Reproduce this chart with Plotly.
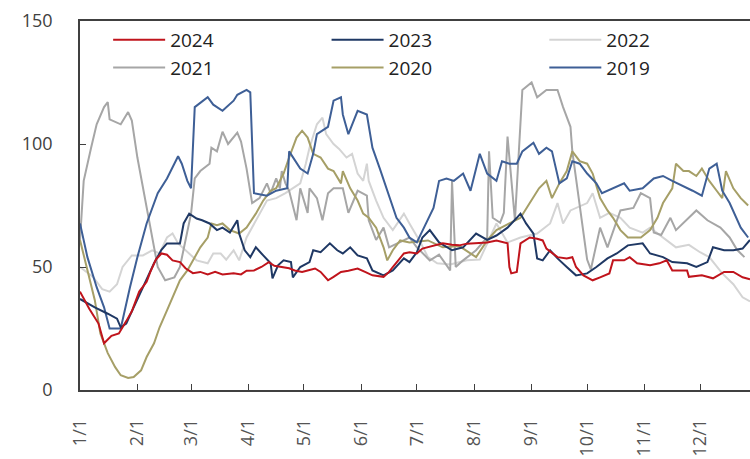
import plotly.graph_objects as go

# seasonal lines, one per year, drawn on a common calendar year
d2024 = ["01-01", "01-06", "01-11", "01-14", "01-18", "01-22", "01-26", "01-29", "02-02", "02-06",
         "02-08", "02-11", "02-14", "02-17", "02-20", "02-24", "02-27", "03-02", "03-06", "03-10",
         "03-14", "03-18", "03-24", "03-28", "03-31", "04-04", "04-08", "04-12", "04-15", "04-19",
         "04-23", "04-26", "04-30", "05-03", "05-07", "05-10", "05-14", "05-17", "05-21", "05-25",
         "05-30", "06-03", "06-07", "06-13", "06-16", "06-18", "06-21", "06-24", "06-27", "07-01",
         "07-04", "07-10", "07-15", "07-20", "07-24", "07-28", "08-02", "08-08", "08-13", "08-19",
         "08-20", "08-21", "08-24", "08-26", "08-31", "09-04", "09-07", "09-09", "09-15", "09-20",
         "09-23", "09-25", "09-29", "10-04", "10-08", "10-13", "10-15", "10-21", "10-24", "10-28",
         "11-04", "11-09", "11-13", "11-16", "11-24", "11-25", "12-02", "12-08", "12-14", "12-19",
         "12-24", "12-28"]
v2024 = [40, 33, 27, 19, 22, 23, 28, 32, 40, 44,
         48, 53, 55.5, 55, 52.7, 52, 49.5, 47.5, 48, 47,
         48, 47, 47.5, 47, 48.5, 48.6, 50, 52, 50.5, 50,
         49.5, 48.6, 48, 48.6, 49.4, 48, 44.6, 46, 48, 48.5,
         49.4, 48, 46.6, 46, 48, 50, 53, 55.5, 56, 55.5,
         57.5, 58.5, 59.6, 59, 58.8, 59.5, 59.6, 60, 60.8, 59.6,
         50, 47.4, 48, 59.6, 62, 61.5, 60.8, 57.5, 54, 53.5,
         54, 50, 46.6, 44.6, 45.8, 47.4, 52.7, 52.7, 54, 51.5,
         50.7, 51.5, 52.7, 48.6, 48.6, 46, 46.6, 45.4, 48, 48,
         45.8, 45]

d2023 = ["01-01", "01-09", "01-16", "01-21", "01-23", "01-26", "01-30", "02-06", "02-10", "02-14",
         "02-17", "02-24", "02-26", "02-29", "03-04", "03-07", "03-11", "03-15", "03-18", "03-22",
         "03-26", "03-27", "03-30", "04-02", "04-05", "04-09", "04-13", "04-14", "04-17", "04-20",
         "04-24", "04-25", "04-29", "05-04", "05-06", "05-10", "05-15", "05-19", "05-22", "05-26",
         "05-30", "06-04", "06-07", "06-13", "06-18", "06-24", "06-27", "07-01", "07-04", "07-08",
         "07-13", "07-20", "07-26", "08-02", "08-08", "08-13", "08-19", "08-24", "08-26", "08-29",
         "09-02", "09-04", "09-07", "09-11", "09-15", "09-20", "09-25", "10-01", "10-06", "10-12",
         "10-17", "10-23", "10-31", "11-04", "11-11", "11-16", "11-24", "11-29", "12-05", "12-08",
         "12-14", "12-19", "12-24", "12-28"]
v2023 = [37, 33.6, 31, 29, 25.5, 27, 33.6, 44.6, 51.5, 57,
         59.6, 59.6, 67.7, 71.7, 69.7, 69, 67.7, 65, 66, 64,
         69, 63.6, 56.8, 54, 58, 54.7, 51.5, 45.4, 50.7, 52.7,
         52, 45.8, 50, 52, 56.8, 56, 59.6, 56.8, 55.5, 58,
         54.7, 53.5, 48.6, 46.6, 48.6, 53.5, 52, 56, 62, 65,
         60, 56.8, 58, 63.6, 61, 62.8, 66, 70, 71.7, 67.7,
         63.6, 53.5, 52.7, 56.8, 53.5, 50, 46.6, 47.4, 50, 53.5,
         55.5, 58.8, 59.6, 55.5, 54, 52, 51.5, 50, 52, 58,
         56.8, 56.8, 57.5, 61]

d2022 = ["01-01", "01-08", "01-13", "01-17", "01-21", "01-24", "01-29", "02-04", "02-09", "02-13",
         "02-17", "02-20", "02-23", "02-27", "03-04", "03-10", "03-13", "03-17", "03-20", "03-24",
         "03-27", "03-31", "04-05", "04-11", "04-16", "04-21", "04-29", "05-02", "05-04", "05-08",
         "05-11", "05-13", "05-17", "05-20", "05-24", "05-27", "05-30", "06-02", "06-04", "06-05",
         "06-09", "06-13", "06-18", "06-24", "06-27", "07-03", "07-07", "07-12", "07-19", "07-28",
         "08-04", "08-13", "08-19", "08-26", "09-04", "09-11", "09-15", "09-18", "09-22", "10-01",
         "10-04", "10-08", "10-13", "10-19", "10-24", "10-31", "11-04", "11-11", "11-18", "11-25",
         "12-01", "12-06", "12-13", "12-19", "12-24", "12-28"]
v2022 = [50, 46, 41, 40, 43, 50, 54.7, 54.7, 56.8, 55.5,
         62, 63.6, 59.6, 56.8, 52.7, 51.5, 55.5, 55.5, 53, 56.8,
         52.7, 62, 69, 77, 78, 80, 84, 92, 98.5, 108,
         110.7, 104, 100, 98, 94.5, 96, 88, 85, 92, 85,
         77, 70, 65, 71.7, 67.7, 60, 54, 51.5, 51, 52.7,
         53, 67.7, 60, 62, 63.6, 67.7, 76, 67.7, 73, 76,
         80, 70, 72, 70, 66, 64, 66, 62, 58, 59,
         56, 54, 47.4, 43, 37.7, 36]

d2021 = ["01-01", "01-03", "01-07", "01-10", "01-14", "01-16", "01-17", "01-20", "01-23", "01-27",
         "01-29", "02-01", "02-05", "02-08", "02-12", "02-16", "02-21", "02-24", "02-26", "03-01",
         "03-03", "03-06", "03-11", "03-12", "03-15", "03-18", "03-21", "03-23", "03-26", "03-28",
         "03-31", "04-03", "04-07", "04-11", "04-13", "04-16", "04-18", "04-19", "04-21", "04-23",
         "04-27", "04-29", "05-03", "05-04", "05-08", "05-11", "05-14", "05-17", "05-22", "05-25",
         "05-30", "06-04", "06-05", "06-09", "06-13", "06-16", "06-22", "06-27", "07-01", "07-05",
         "07-08", "07-13", "07-19", "07-20", "07-22", "07-26", "08-02", "08-08", "08-09", "08-11",
         "08-15", "08-17", "08-19", "08-23", "08-27", "09-01", "09-04", "09-09", "09-15", "09-18",
         "09-22", "09-23", "09-27", "10-01", "10-03", "10-08", "10-12", "10-19", "10-26", "10-30",
         "11-04", "11-06", "11-10", "11-15", "11-18", "11-22", "11-29", "12-05", "12-12", "12-17",
         "12-21", "12-25"]
v2021 = [61, 85, 98.5, 108, 115, 117, 110, 109, 108, 113,
         109.5, 94.5, 78, 65, 50, 44.6, 45.8, 50, 56.8, 71.7,
         86, 89, 92, 98.5, 97, 105, 100, 102, 104.6, 101,
         90, 76, 78, 84, 80, 86, 82, 89, 84, 81,
         69, 82, 72, 82, 78, 69, 80, 82, 82, 72,
         81, 79, 69, 61, 66, 58, 60, 62, 58, 55,
         52.7, 55, 48.6, 85, 50, 52.7, 56.8, 62, 97, 70,
         68, 72, 103, 69, 122, 125, 119, 122, 122, 115,
         107, 97, 76, 53, 49, 66, 58, 73, 74, 80,
         78, 64, 63, 70, 65, 68, 73, 69, 66, 62,
         57, 54]

d2020 = ["01-01", "01-05", "01-09", "01-12", "01-16", "01-20", "01-23", "01-27", "01-30", "02-03",
         "02-06", "02-10", "02-13", "02-17", "02-21", "02-24", "02-28", "03-03", "03-06", "03-10",
         "03-12", "03-15", "03-18", "03-22", "03-27", "03-31", "04-05", "04-09", "04-13", "04-16",
         "04-20", "04-23", "04-27", "04-30", "05-03", "05-06", "05-10", "05-14", "05-17", "05-21",
         "05-22", "05-26", "05-30", "06-02", "06-05", "06-09", "06-13", "06-15", "06-18", "06-22",
         "06-27", "07-07", "07-15", "07-24", "08-02", "08-08", "08-13", "08-20", "08-26", "08-31",
         "09-05", "09-09", "09-12", "09-16", "09-20", "09-23", "09-27", "10-01", "10-04", "10-08",
         "10-12", "10-15", "10-19", "10-23", "10-30", "11-04", "11-08", "11-11", "11-16", "11-18",
         "11-22", "11-25", "11-29", "12-02", "12-06", "12-10", "12-13", "12-15", "12-19", "12-23",
         "12-27"]
v2020 = [61, 48.6, 36.5, 23, 15, 9.3, 6, 4.9, 5.3, 8,
         13.4, 19, 25.5, 32.4, 39.3, 44.6, 48.6, 54, 58, 62,
         67.7, 67, 67.7, 65, 63.6, 66, 71.7, 77, 81, 82,
         88, 94.5, 102.6, 105.4, 102.6, 96, 94.5, 90, 89, 84,
         89, 82, 77, 71.7, 70, 66, 58, 52.7, 56.8, 60.8,
         60, 60.8, 58, 58.5, 54, 60.8, 65, 67.7, 70, 76,
         82, 85, 78, 84, 89, 97, 93, 92, 88, 78,
         73, 70, 65, 62, 62, 65, 70, 76, 82, 92,
         89, 89, 87, 90, 85, 81, 78, 89, 82, 78,
         75]

d2019 = ["01-01", "01-05", "01-10", "01-14", "01-17", "01-23", "01-28", "02-01", "02-06", "02-12",
         "02-17", "02-23", "02-25", "02-28", "03-01", "03-03", "03-10", "03-13", "03-18", "03-24",
         "03-26", "03-31", "04-02", "04-04", "04-11", "04-16", "04-22", "04-23", "04-29", "05-03",
         "05-06", "05-08", "05-14", "05-17", "05-21", "05-22", "05-25", "05-30", "06-04", "06-07",
         "06-11", "06-15", "06-20", "06-24", "06-27", "07-01", "07-07", "07-10", "07-13", "07-17",
         "07-21", "07-26", "07-30", "08-02", "08-04", "08-08", "08-13", "08-16", "08-20", "08-24",
         "08-27", "09-02", "09-05", "09-09", "09-12", "09-16", "09-20", "09-23", "09-27", "10-01",
         "10-06", "10-09", "10-15", "10-21", "10-24", "10-31", "11-06", "11-11", "11-16", "11-22",
         "11-27", "12-02", "12-06", "12-10", "12-13", "12-17", "12-23", "12-27"]
v2019 = [67.7, 54, 41.8, 33.6, 25, 25, 41.8, 54, 67.7, 80,
         86, 95, 92, 85, 82, 115, 119, 116, 113.5, 117.6,
         120, 122, 121, 80, 79, 81, 82, 97, 90, 88,
         96, 104, 107, 117.6, 119, 112, 104, 113.5, 112, 98.5,
         90, 81, 70, 66, 62, 60, 69, 74, 85, 86,
         85, 88, 81, 90, 96, 88, 85, 93, 92, 92,
         97, 100.5, 96, 98.5, 97, 84, 86, 93, 92, 88,
         84, 80, 82, 84, 81, 82, 86, 87, 85, 83,
         81, 79, 90, 92, 81, 76, 66, 62]

# name, dates, values, colour, legend column, rank in column; listed in drawing order
series = [
    ("2022", d2022, v2022, "#d4d4d4", "legend3", 1),
    ("2021", d2021, v2021, "#a6a6a6", "legend", 2),
    ("2020", d2020, v2020, "#a69f67", "legend2", 2),
    ("2019", d2019, v2019, "#3e5f96", "legend3", 2),
    ("2023", d2023, v2023, "#1f3864", "legend2", 1),
    ("2024", d2024, v2024, "#c0141c", "legend", 1),
]

month_ticks = ["2024-%02d-01" % m for m in range(1, 13)]
month_text = ["%d/1" % m for m in range(1, 13)]

fig = go.Figure()
for name, dates, vals, color, leg, rank in series:
    fig.add_trace(go.Scatter(
        x=["2024-" + d for d in dates],
        y=vals,
        mode="lines",
        name=name,
        legend=leg,
        legendrank=rank,
        line=dict(color=color, width=2),
    ))


def legend_col(x):
    return dict(
        x=x, y=1.0, xanchor="left", yanchor="top",
        orientation="v",
        bgcolor="rgba(0,0,0,0)",
        font=dict(size=19, color="#222222"),
        itemwidth=52,
        tracegroupgap=0,
    )


axis_color = "#404040"
fig.update_layout(
    width=750,
    height=459,
    margin=dict(l=80, r=0, t=21, b=69),
    paper_bgcolor="white",
    plot_bgcolor="white",
    font=dict(family="Open Sans, Noto Sans, sans-serif", size=18, color="#333333"),
    showlegend=True,
    legend=legend_col(0.042),
    legend2=legend_col(0.368),
    legend3=legend_col(0.693),
)
fig.update_xaxes(
    type="date",
    range=["2024-01-01", "2024-12-28"],
    tickvals=month_ticks,
    ticktext=month_text,
    tickangle=-90,
    ticks="inside",
    ticklen=6,
    tickcolor=axis_color,
    showline=True,
    linecolor=axis_color,
    linewidth=1.5,
    mirror=True,
    showgrid=False,
    zeroline=False,
    automargin=False,
    ticklabelstandoff=20,
    tickfont=dict(size=18, color="#555555"),
)
fig.update_yaxes(
    range=[0, 150],
    tickvals=[0, 50, 100, 150],
    ticks="inside",
    ticklen=6,
    tickcolor=axis_color,
    showline=True,
    linecolor=axis_color,
    linewidth=1.5,
    showgrid=False,
    zeroline=False,
    automargin=False,
    ticklabelstandoff=22,
    tickfont=dict(size=18, color="#404040"),
)

# drop the page's default body margin so the figure sits at the window's corner
fig.write_html(
    "out.html",
    config={"displayModeBar": False},
    post_script="document.body.style.margin='0px';",
)
